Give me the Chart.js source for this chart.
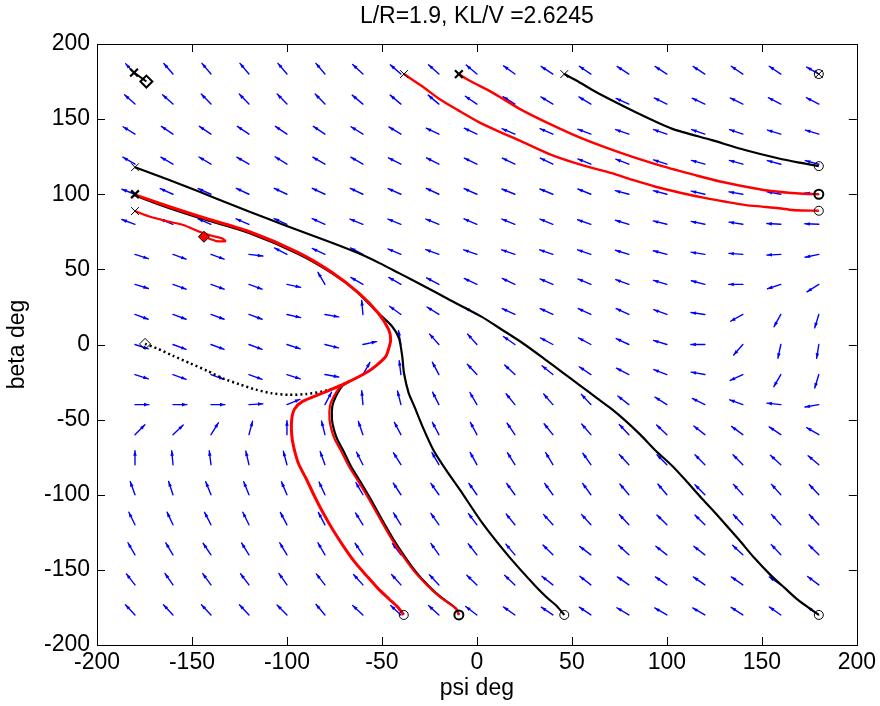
<!DOCTYPE html>
<html>
<head>
<meta charset="utf-8">
<script src="https://cdn.jsdelivr.net/npm/chart.js@4.4.1/dist/chart.umd.min.js"></script>
<style>
  html, body { margin: 0; padding: 0; background: #fff; }
  #wrap { width: 880px; height: 706px; }
</style>
</head>
<body>
<div id="wrap"><canvas id="myChart" width="880" height="706"></canvas></div>
<script>
// quiver grid (deg)
const psiGrid = [-180, -160, -140, -120, -100, -80, -60, -40, -20, 0, 20, 40, 60, 80, 100, 120, 140, 160, 180];
const betaGrid = [180, 160, 140, 120, 100, 80, 60, 40, 20, 0, -20, -40, -60, -80, -100, -120, -140, -160, -180];

// arrow direction, screen degrees (0 = +psi, 90 = +beta), one row per beta
const quiverAngle = [
  [132, 131, 130, 130, 130, 130, 137, 139, 138, 140, 144, 147, 146, 147, 147, 147, 146, 146, 150],
  [138, 138, 134, 134, 134, 134, 140, 140, 140, 146, 148, 149, 149, 156, 154, 155, 154, 153, 153],
  [148, 146, 146, 146, 146, 146, 148, 149, 155, 155, 157, 157, 159, 161, 161, 161, 161, 163, 163],
  [150, 150, 149, 150, 148, 150, 150, 153, 153, 154, 154, 154, 158, 159, 162, 164, 164, 165, 165],
  [159, 156, 156, 155, 155, 155, 155, 156, 155, 156, 158, 158, 158, 165, 165, 167, 170, 170, 175],
  [160, 158, 157, 157, 156, 156, 158, 158, 158, 157, 158, 158, 161, 163, 166, 168, 171, 177, 178],
  [-18, -20, -20, -7, 153, 155, 153, 157, 160, 161, 161, 161, 161, 163, 165, 171, 176, 183, 192],
  [-17, -20, -20, -20, -12, 120, 150, 150, 152, 155, 155, 157, 157, 160, 163, 165, 180, 198, 212],
  [-20, -20, -20, -20, -13, -10, 95, 144, 148, 150, 155, 155, 155, 155, 160, 172, 209, 241, 253],
  [-18, -20, -20, -20, -18, -14, 12, 100, 132, 132, 145, 152, 152, 155, 163, 180, 229, 258, 261],
  [-18, -20, -20, -20, -18, -10, 60, 97, 118, 133, 137, 141, 146, 153, 159, 170, 205, 240, 253],
  [0, 0, 0, 3, 22, 62, 95, 104, 117, 120, 129, 131, 133, 142, 148, 154, 160, 174, 190],
  [45, 43, 58, 75, 90, 104, 109, 118, 118, 118, 124, 129, 131, 133, 137, 142, 144, 146, 150],
  [90, 95, 97, 103, 105, 110, 117, 122, 120, 119, 122, 121, 125, 133, 135, 135, 135, 138, 140],
  [110, 108, 112, 112, 113, 115, 120, 123, 125, 125, 126, 126, 126, 130, 130, 135, 132, 132, 133],
  [116, 115, 117, 116, 118, 118, 122, 122, 125, 127, 129, 132, 132, 133, 135, 135, 133, 132, 133],
  [120, 121, 124, 122, 121, 120, 124, 127, 125, 128, 130, 135, 143, 137, 142, 142, 137, 133, 135],
  [128, 125, 126, 127, 125, 128, 132, 132, 133, 136, 137, 142, 142, 145, 145, 145, 145, 145, 143],
  [133, 133, 133, 133, 135, 130, 137, 137, 138, 143, 145, 146, 146, 149, 150, 150, 147, 145, 145]
];

// trajectories [psi, beta]
const blackA = [[-180, 118], [-163, 110], [-146, 101.6], [-128, 92.5], [-110.7, 84], [-93, 75.5], [-76, 67.5], [-62, 60.5],
  [-51, 54], [-41, 47.5], [-28, 39], [-14, 29.5], [2.6, 18.4], [13, 10], [24, 1], [36, -10], [45, -18.5], [54, -27],
  [63, -35.5], [71, -43], [78, -50.5], [86, -60], [94, -70.5], [103, -81], [110, -90.5], [117, -100.5], [124, -110],
  [131, -120], [138, -130], [146, -142], [155, -154], [162, -162], [169, -170], [175, -175.5], [180, -180]];
const blackB = [[-180, 99.2], [-163, 91.2], [-146, 84.2], [-120, 74.2], [-94, 60.2], [-76, 47.2], [-64, 36], [-52, 21],
  [-44.6, 12], [-41, 4], [-39.3, -8], [-38.4, -19], [-36, -32], [-33, -41], [-28.5, -55], [-23, -70], [-16, -84],
  [-9, -96.6], [2.8, -118.7], [16.8, -141], [31, -161], [38, -169.7], [42, -174], [46, -180]];
const blackC = [[-66.6, -24], [-70.8, -27.5], [-74.2, -34.5], [-76.1, -41], [-76.3, -50], [-75.2, -57], [-73.4, -63.4],
  [-69.8, -72], [-66.3, -81], [-61, -92], [-55.9, -103], [-50, -116.5], [-43.8, -130], [-37.8, -141.5], [-31.7, -152],
  [-25.5, -160.5], [-19.6, -167.5], [-14.2, -172.5], [-10.8, -176], [-9.5, -180]];
const blackD = [[46, 180], [53.7, 174.7], [62, 168.5], [71, 162.5], [85, 153.7], [102.6, 143.7], [123.7, 136], [141.6, 129.3],
  [159, 123.8], [170, 121], [180, 118.7]];
const blackE = [[-180.5, 181], [-174, 175]];
const blackDotted = [[-174.7, 0.4], [-168.6, -2.5], [-160, -7.5], [-151, -12.5], [-142, -17.5], [-134, -22.4], [-125, -26.5],
  [-116.5, -30], [-108, -32.5], [-99, -33.5], [-90, -33], [-81.4, -31.3], [-74, -28.5], [-67.4, -24.6]];

const redA = [[-180, 99.6], [-163, 92.2], [-146, 85.2], [-120, 75.2], [-94, 61.2], [-76, 47.8], [-62, 34], [-52, 21], [-46.5, 10],
  [-45.4, 3], [-46.5, -3], [-48, -8], [-53, -14], [-58.6, -19], [-69, -25.7], [-81.4, -32.4], [-92, -38], [-96, -43],
  [-97.5, -50], [-97.5, -60], [-96.5, -68], [-94, -79], [-89.6, -90], [-85.5, -101], [-81, -112], [-76, -123],
  [-70.4, -134], [-64.5, -144.5], [-58, -154], [-52, -162.5], [-46, -169.7], [-41.5, -175], [-38.5, -180]];
const redB = [[-67.4, -24.6], [-72, -28.5], [-75.5, -35], [-77.4, -41], [-77.6, -50], [-76.5, -57], [-74.7, -63.4], [-71, -72],
  [-67.4, -81], [-62, -92], [-56.8, -103], [-50.8, -116.5], [-44.6, -130], [-38.5, -141.5], [-32.3, -152], [-26, -160.5],
  [-20, -167.5], [-14.5, -172.5], [-11, -176], [-9.5, -180]];
const redC = [[-38.4, 180], [-29, 172], [-20, 163.6], [-10, 156], [1, 148], [12, 141.5], [22, 136], [39.5, 126], [55, 119.5],
  [71, 114], [82, 109.5], [94, 105], [107, 101], [120.5, 97.4], [131, 95], [141.6, 92.8], [150, 91.8], [159, 90.7],
  [166, 89.5], [171, 89.2], [180, 89]];
const redD = [[-9.5, 180], [-3, 175], [6.3, 169], [15, 162.5], [23.7, 156], [38, 147], [53.7, 138], [68, 131], [81.6, 125],
  [98, 118.5], [115, 112.7], [128, 108.5], [141.6, 105], [153, 102.5], [164, 101], [172, 100.3], [180, 100]];
const redE = [[-180, 88.8], [-172, 85], [-163, 82], [-154.6, 79.5], [-146, 75], [-140, 72.5], [-134, 70.5], [-132.5, 68.8],
  [-137, 68.8], [-143.7, 71.7]];

// markers
const startThin = [[-180, 118], [-180, 88.8], [-38.4, 180], [46, 180], [180, 180]];
const startThick = [[-180, 100], [-9.5, 180], [-180.5, 181]];
const endThin = [[-38.5, -180], [46, -180], [180, -180], [180, 180], [180, 118.7], [180, 89]];
const endThick = [[-9.5, -180], [180, 100]];
const diamondBig = [[-174, 175]];
const diamondRed = [[-143.7, 71.7]];
const diamondSmall = [[-174.7, 0.4]];

const xTicks = [-200, -150, -100, -50, 0, 50, 100, 150, 200];
const yTicks = [-200, -150, -100, -50, 0, 50, 100, 150, 200];

const ARROW_LEN = 14;
const FONT = 'Liberation Sans, Arial, sans-serif';

function pts(arr) {
  return arr.map(p => ({ x: p[0], y: p[1] }));
}

function lineSet(arr, color, width, dash) {
  return {
    type: 'scatter',
    data: pts(arr),
    showLine: true,
    borderColor: color,
    borderWidth: width,
    borderDash: dash || [],
    pointRadius: 0,
    tension: 0.25,
    fill: false
  };
}

function markerSet(arr, style, radius, width, fillColor) {
  return {
    type: 'scatter',
    data: pts(arr),
    showLine: false,
    pointStyle: style,
    pointRadius: radius,
    pointBorderWidth: width,
    pointBorderColor: '#000',
    pointBackgroundColor: fillColor || 'rgba(0,0,0,0)',
    borderColor: '#000',
    backgroundColor: fillColor || 'rgba(0,0,0,0)'
  };
}

const quiverPlugin = {
  id: 'quiver',
  beforeDatasetsDraw(chart) {
    const xs = chart.scales.x, ys = chart.scales.y, ctx = chart.ctx;
    ctx.save();
    ctx.setLineDash([]);
    ctx.strokeStyle = '#0000ff';
    ctx.fillStyle = '#0000ff';
    ctx.lineWidth = 1.4;
    ctx.lineCap = 'round';
    betaGrid.forEach((b, r) => {
      psiGrid.forEach((p, c) => {
        const a = quiverAngle[r][c] * Math.PI / 180;
        const x0 = xs.getPixelForValue(p), y0 = ys.getPixelForValue(b);
        const ux = Math.cos(a), uy = -Math.sin(a);
        const x1 = x0 + ARROW_LEN * ux, y1 = y0 + ARROW_LEN * uy;
        ctx.beginPath();
        ctx.moveTo(x0, y0);
        ctx.lineTo(x1, y1);
        ctx.stroke();
        // small filled head
        const bx = x1 - 5 * ux, by = y1 - 5 * uy;
        ctx.beginPath();
        ctx.moveTo(x1, y1);
        ctx.lineTo(bx - 1.8 * uy, by + 1.8 * ux);
        ctx.lineTo(bx + 1.8 * uy, by - 1.8 * ux);
        ctx.closePath();
        ctx.fill();
      });
    });
    ctx.restore();
  }
};

const boxPlugin = {
  id: 'box',
  afterDatasetsDraw(chart) {
    const a = chart.chartArea, xs = chart.scales.x, ys = chart.scales.y, ctx = chart.ctx;
    ctx.save();
    ctx.setLineDash([]);
    ctx.strokeStyle = '#000';
    ctx.lineWidth = 1;
    ctx.strokeRect(Math.round(a.left) + 0.5, Math.round(a.top) + 0.5, Math.round(a.right - a.left), Math.round(a.bottom - a.top));
    ctx.beginPath();
    xTicks.forEach(v => {
      const x = Math.round(xs.getPixelForValue(v)) + 0.5;
      ctx.moveTo(x, a.bottom); ctx.lineTo(x, a.bottom - 8);
      ctx.moveTo(x, a.top); ctx.lineTo(x, a.top + 8);
    });
    yTicks.forEach(v => {
      const y = Math.round(ys.getPixelForValue(v)) + 0.5;
      ctx.moveTo(a.left, y); ctx.lineTo(a.left + 8, y);
      ctx.moveTo(a.right, y); ctx.lineTo(a.right - 8, y);
    });
    ctx.stroke();
    ctx.restore();
  }
};

new Chart(document.getElementById('myChart'), {
  type: 'scatter',
  data: {
    datasets: [
      markerSet(diamondBig, 'rectRot', 6, 2),
      markerSet(diamondRed, 'rectRot', 5.5, 1, '#ff0000'),
      markerSet(diamondSmall, 'rectRot', 5.5, 1),
      markerSet(startThick, 'crossRot', 5.5, 2.2),
      markerSet(startThin, 'crossRot', 5.5, 1),
      markerSet(endThick, 'circle', 4.5, 2),
      markerSet(endThin, 'circle', 4.5, 1),
      lineSet(redE, '#ff0000', 2.2),
      lineSet(redD, '#ff0000', 2.4),
      lineSet(redC, '#ff0000', 2.4),
      lineSet(redB, '#ff0000', 2.2),
      lineSet(redA, '#ff0000', 3),
      lineSet(blackDotted, '#000', 2.5, [2, 3]),
      lineSet(blackE, '#000', 2),
      lineSet(blackD, '#000', 2.2),
      lineSet(blackC, '#000', 2.2),
      lineSet(blackB, '#000', 2.2),
      lineSet(blackA, '#000', 2.2)
    ]
  },
  options: {
    responsive: false,
    animation: false,
    devicePixelRatio: 1,
    layout: { padding: { left: 0, right: 23, top: 0, bottom: 0 } },
    plugins: {
      legend: { display: false },
      tooltip: { enabled: false },
      title: {
        display: true,
        fullSize: false,
        text: 'L/R=1.9, KL/V =2.6245',
        color: '#000',
        font: { family: FONT, size: 23, weight: 'normal' },
        padding: { top: 3, bottom: 13.4 }
      }
    },
    scales: {
      x: {
        type: 'linear',
        min: -200,
        max: 200,
        afterFit: s => { s.height = 61; },
        afterBuildTicks: s => { s.ticks = xTicks.map(v => ({ value: v })); },
        grid: { display: false, drawTicks: false },
        border: { display: false },
        ticks: { color: '#000', padding: 4, maxRotation: 0, font: { family: FONT, size: 23 } },
        title: { display: true, text: 'psi deg', color: '#000', padding: { top: 4, bottom: 4 }, font: { family: FONT, size: 23 } }
      },
      y: {
        type: 'linear',
        min: -200,
        max: 200,
        afterFit: s => { s.width = 97; },
        afterBuildTicks: s => { s.ticks = yTicks.map(v => ({ value: v })); },
        grid: { display: false, drawTicks: false },
        border: { display: false },
        ticks: { color: '#000', padding: 7, font: { family: FONT, size: 23 } },
        title: { display: true, text: 'beta deg', color: '#000', padding: { top: 4, bottom: 4 }, font: { family: FONT, size: 23 } }
      }
    }
  },
  plugins: [quiverPlugin, boxPlugin]
});
</script>
</body>
</html>
